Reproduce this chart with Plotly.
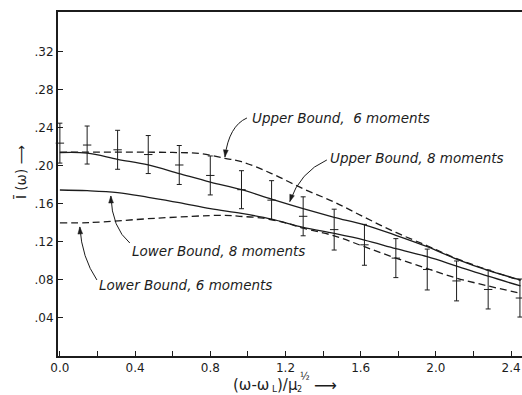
import math
import plotly.graph_objects as go

# Measured intensity with error bars
obs_x = [0.0, 0.145, 0.307, 0.47, 0.635, 0.80, 0.966, 1.126, 1.294, 1.459,
         1.62, 1.787, 1.954, 2.11, 2.278, 2.447]
obs_y = [0.224, 0.222, 0.217, 0.212, 0.201, 0.190, 0.175, 0.164, 0.147, 0.133,
         0.117, 0.103, 0.091, 0.079, 0.070, 0.061]
obs_err = [0.021, 0.020, 0.0205, 0.020, 0.0205, 0.0205, 0.020, 0.0205, 0.0205, 0.0215,
           0.0215, 0.0205, 0.0215, 0.021, 0.0205, 0.020]

# Bounds from 8 moments
b8_x = [0.0, 0.145, 0.307, 0.47, 0.635, 0.80, 0.966, 1.126, 1.294, 1.459,
        1.62, 1.787, 1.954, 2.11, 2.278, 2.45]
upper8 = [0.214, 0.2135, 0.207, 0.201, 0.192, 0.183, 0.175, 0.165, 0.155, 0.146,
          0.138, 0.127, 0.115, 0.102, 0.090, 0.080]
lower8 = [0.1747, 0.174, 0.172, 0.167, 0.1614, 0.155, 0.150, 0.144, 0.1354, 0.129,
          0.122, 0.113, 0.1045, 0.0947, 0.084, 0.0737]

# Bounds from 6 moments
u6_x = [0.0, 0.2, 0.4, 0.6, 0.745, 0.878, 0.966, 1.126, 1.294, 1.459,
        1.62, 1.787, 1.954, 2.11, 2.278, 2.45]
upper6 = [0.2145, 0.2145, 0.2145, 0.2142, 0.213, 0.208, 0.2045, 0.192, 0.176, 0.162,
          0.146, 0.130, 0.116, 0.1025, 0.0905, 0.0795]
l6_x = [0.0, 0.16, 0.514, 0.868, 0.957, 1.08, 1.2, 1.294, 1.459, 1.62,
        1.787, 1.954, 2.11, 2.278, 2.45]
lower6 = [0.140, 0.1404, 0.145, 0.148, 0.147, 0.145, 0.140, 0.1345, 0.1265, 0.115,
          0.103, 0.092, 0.082, 0.0737, 0.066]

x_ticks = [0.0, 0.4, 0.8, 1.2, 1.6, 2.0, 2.4]
x_tick_text = ["0.0", "0.4", "0.8", "1.2", "1.6", "2.0", "2.4"]
y_ticks = [0.04, 0.08, 0.12, 0.16, 0.20, 0.24, 0.28, 0.32]
y_tick_text = [".04", ".08", ".12", ".16", ".20", ".24", ".28", ".32"]

INK = "#1c1c1c"
DASH = "7px,4px"
X_RANGE = [-0.01, 2.458]
Y_RANGE = [0, 0.362]
MARGIN = dict(l=58, r=0, t=12, b=39)
WIDTH, HEIGHT = 522, 395
PLOT_W = WIDTH - MARGIN["l"] - MARGIN["r"]
PLOT_H = HEIGHT - MARGIN["t"] - MARGIN["b"]
PX_X = PLOT_W / (X_RANGE[1] - X_RANGE[0])
PX_Y = PLOT_H / (Y_RANGE[1] - Y_RANGE[0])

fig = go.Figure()

fig.add_trace(go.Scatter(x=u6_x, y=upper6, mode="lines", line_shape="spline",
                         line=dict(color=INK, width=1.3, dash=DASH)))
fig.add_trace(go.Scatter(x=l6_x, y=lower6, mode="lines", line_shape="spline",
                         line=dict(color=INK, width=1.3, dash=DASH)))
fig.add_trace(go.Scatter(x=b8_x, y=upper8, mode="lines", line_shape="spline",
                         line=dict(color=INK, width=1.3)))
fig.add_trace(go.Scatter(x=b8_x, y=lower8, mode="lines", line_shape="spline",
                         line=dict(color=INK, width=1.3)))
fig.add_trace(go.Scatter(
    x=obs_x, y=obs_y, mode="markers", cliponaxis=False,
    marker=dict(symbol="line-ew", size=6, line=dict(color=INK, width=1)),
    error_y=dict(type="data", array=obs_err, visible=True,
                 color=INK, thickness=1, width=2.5)))

ann_font = dict(family="DejaVu Sans", size=13.5, color=INK, style="italic")

labels = [
    ("Upper Bound,  6 moments", 1.011, 0.2505),
    ("Upper Bound, 8 moments", 1.426, 0.2084),
    ("Lower Bound, 8 moments", 0.372, 0.1105),
    ("Lower Bound, 6 moments", 0.197, 0.0747),
]
annotations = []
for txt, ax_, ay_ in labels:
    annotations.append(dict(text=txt, x=ax_, y=ay_, xref="x", yref="y",
                            xanchor="left", yanchor="middle", showarrow=False,
                            font=ann_font))

# curved leader lines: start, control point, arrow tip
leaders = [
    ((0.995, 0.2505), (0.899, 0.2421), (0.878, 0.2095)),
    ((1.420, 0.2063), (1.277, 0.1937), (1.223, 0.1625)),
    ((0.372, 0.1189), (0.277, 0.1347), (0.271, 0.1684)),
    ((0.197, 0.0800), (0.117, 0.1032), (0.106, 0.1358)),
]


def arrow_head(ctrl, tip, length=7.0, half=2.4):
    """Filled triangle at tip, aligned with the tangent ctrl -> tip."""
    dx = (tip[0] - ctrl[0]) * PX_X
    dy = (tip[1] - ctrl[1]) * PX_Y
    n = math.hypot(dx, dy)
    ux, uy = dx / n, dy / n
    bx, by = -ux * length, -uy * length
    px_, py_ = -uy * half, ux * half
    pts = [(0, 0), (bx + px_, by + py_), (bx - px_, by - py_)]
    coords = [(tip[0] + a / PX_X, tip[1] + b / PX_Y) for a, b in pts]
    return "M " + " L ".join(f"{x},{y}" for x, y in coords) + " Z"


shapes = []
for p0, c, p2 in leaders:
    shapes.append(dict(type="path", xref="x", yref="y",
                       path=f"M {p0[0]},{p0[1]} Q {c[0]},{c[1]} {p2[0]},{p2[1]}",
                       line=dict(color=INK, width=1)))
    shapes.append(dict(type="path", xref="x", yref="y", path=arrow_head(c, p2),
                       fillcolor=INK, line=dict(color=INK, width=0.5)))

# y-axis title
annotations.append(dict(text="Ī (ω) ⟶", textangle=-90, xref="paper", yref="y",
                        x=0, xshift=-37, y=0.1937, showarrow=False,
                        xanchor="center", yanchor="middle",
                        font=dict(family="DejaVu Sans", size=13.5, color=INK)))

# x-axis title, set piece by piece: (text, left edge px, centre px, font size)
x_title_parts = [
    ("(ω-ω", 232, 385, 15),
    ("L", 271, 389, 9),
    (")/μ", 276, 385, 15),
    ("2", 296, 389, 8),
    ("½", 299, 376, 10),
    ("⟶", 313, 385, 16),
]
for txt, left_px, mid_px, size in x_title_parts:
    annotations.append(dict(
        text=txt, xref="paper", yref="paper",
        x=(left_px - MARGIN["l"]) / PLOT_W, y=0,
        yshift=-(mid_px - (HEIGHT - MARGIN["b"])),
        xanchor="left", yanchor="middle", showarrow=False, borderpad=0,
        font=dict(family="DejaVu Sans", size=size, color=INK)))

axis_font = dict(family="DejaVu Sans", size=12, color=INK)
fig.update_layout(
    width=WIDTH, height=HEIGHT,
    margin=MARGIN,
    paper_bgcolor="white", plot_bgcolor="white",
    showlegend=False,
    shapes=shapes, annotations=annotations,
    xaxis=dict(range=X_RANGE, tickvals=x_ticks, ticktext=x_tick_text,
               ticks="inside", ticklen=5, tickwidth=1, tickcolor=INK,
               minor=dict(tick0=0, dtick=0.2, ticks="inside", ticklen=5,
                          tickwidth=1, tickcolor=INK),
               showline=True, linecolor=INK, linewidth=2, mirror=True,
               showgrid=False, zeroline=False, tickfont=axis_font),
    yaxis=dict(range=Y_RANGE, tickvals=y_ticks, ticktext=y_tick_text,
               ticks="inside", ticklen=5, tickwidth=1, tickcolor=INK,
               showline=True, linecolor=INK, linewidth=2,
               showgrid=False, zeroline=False, tickfont=axis_font),
)

fig.write_html("out.html")
